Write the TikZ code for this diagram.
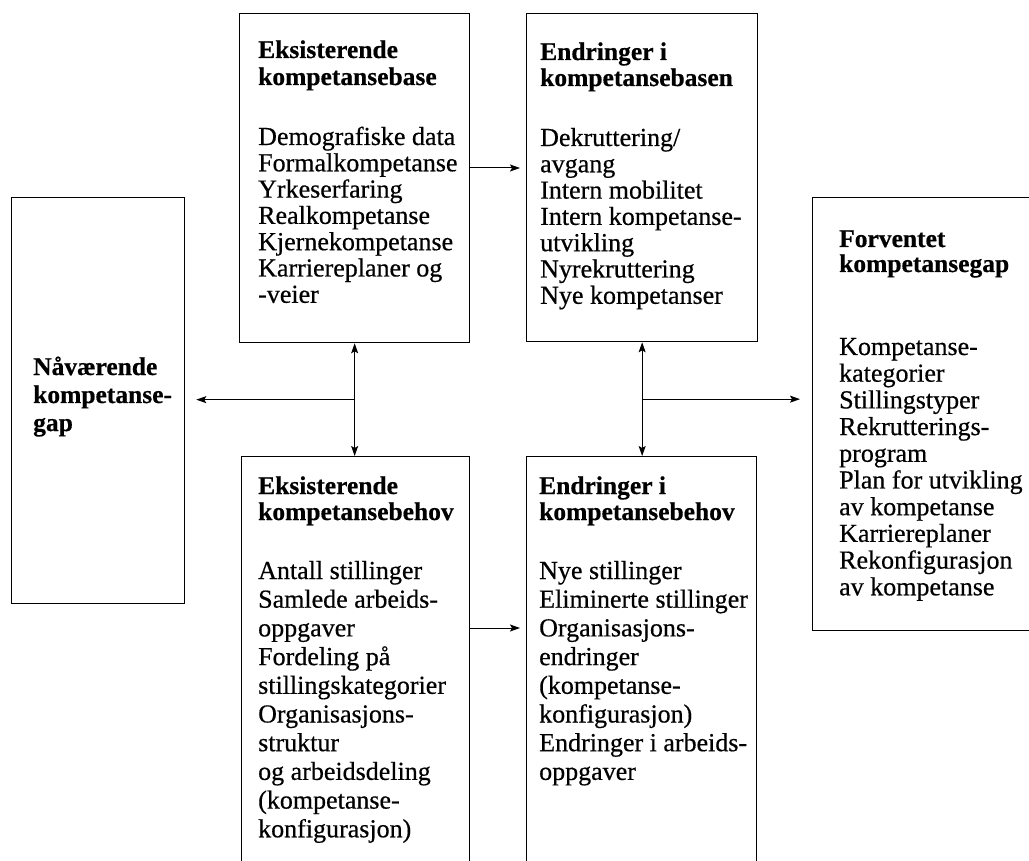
\documentclass[tikz,border=0pt]{standalone}
\usepackage{fontspec}
\setmainfont{Liberation Serif}[FakeBold=0.5]
\usetikzlibrary{arrows.meta,calc}
\newcommand\txtblock[3]{\parbox[t]{300pt}{\fontsize{#1}{#2}\selectfont\raggedright #3}}
\tikzset{
  box/.style={draw, line width=1.3pt, inner sep=0pt, anchor=north west},
  txt/.style={anchor=base west, inner sep=0pt},
  arr/.style={line width=1pt, -{Stealth[length=10pt,width=7pt,inset=2pt]}},
  dbl/.style={line width=1pt, {Stealth[length=10pt,width=7pt,inset=2pt]}-{Stealth[length=10pt,width=7pt,inset=2pt]}}
}
\begin{document}
\begin{tikzpicture}[x=1pt,y=-1pt]
\useasboundingbox (0,0) rectangle (1029,861);
\fill[white] (0,0) rectangle (1029,861);
% boxes
\node[box, minimum width=173pt, minimum height=406pt] (now) at (11,197) {};
\node[box, minimum width=230pt, minimum height=329pt] (ekb) at (239,13) {};
\node[box, minimum width=231pt, minimum height=328pt] (eib) at (526,13) {};
\node[box, minimum width=228pt, minimum height=430pt] (ekbh) at (241,456) {};
\node[box, minimum width=230pt, minimum height=430pt] (eibh) at (526,456) {};
\node[box, minimum width=240pt, minimum height=433pt] (forv) at (812,197) {};
% texts
\node[txt] (nowt) at (33,375) {\txtblock{25.5}{28}{\bfseries Nåværende\\kompetanse-\\gap}};
\node[txt] (ekbt) at (258,58) {\txtblock{25.5}{27}{\bfseries Eksisterende\\kompetansebase}};
\node[txt] (ekbb) at (258,145) {\txtblock{26}{26.3}{Demografiske data\\Formalkompetanse\\Yrkeserfaring\\Realkompetanse\\Kjernekompetanse\\Karriereplaner og\\-veier}};
\node[txt] (eibt) at (540,60) {\txtblock{25.5}{26}{\bfseries Endringer i\\kompetansebasen}};
\node[txt] (eibb) at (540,146) {\txtblock{26}{26.3}{Dekruttering/\\avgang\\Intern mobilitet\\Intern kompetanse-\\utvikling\\Nyrekruttering\\Nye kompetanser}};
\node[txt] (ekbht) at (258,494) {\txtblock{25.5}{26}{\bfseries Eksisterende\\kompetansebehov}};
\node[txt] (ekbhb) at (258,579) {\txtblock{26}{28.7}{Antall stillinger\\Samlede arbeids-\\oppgaver\\Fordeling på\\stillingskategorier\\Organisasjons-\\struktur\\og arbeidsdeling\\(kompetanse-\\konfigurasjon)}};
\node[txt] (eibht) at (539,494) {\txtblock{25.5}{26}{\bfseries Endringer i\\kompetansebehov}};
\node[txt] (eibhb) at (539,579) {\txtblock{26}{28.7}{Nye stillinger\\Eliminerte stillinger\\Organisasjons-\\endringer\\(kompetanse-\\konfigurasjon)\\Endringer i arbeids-\\oppgaver}};
\node[txt] (forvt) at (839,247) {\txtblock{25.5}{25}{\bfseries Forventet\\kompetansegap}};
\node[txt] (forvb) at (839,355) {\txtblock{26}{26.7}{Kompetanse-\\kategorier\\Stillingstyper\\Rekrutterings-\\program\\Plan for utvikling\\av kompetanse\\Karriereplaner\\Rekonfigurasjon\\av kompetanse}};
% connectors
\coordinate (j1) at ($(ekb.south)!0.5!(ekbh.north)$);
\coordinate (j2) at ($(eib.south)!0.5!(eibh.north)$);
\draw[dbl] (ekb.south) -- (ekb.south |- ekbh.north);
\draw[dbl] (eib.south) -- (eib.south |- eibh.north);
\draw[arr, shorten >=11pt] (j1) -- (now.east |- j1);
\draw[arr, shorten >=12pt] (j2) -- (forv.west |- j2);
\draw[arr, shorten >=6pt] (ekb.east |- 0,168) -- (eib.west |- 0,168);
\draw[arr, shorten >=6pt] (ekbh.east |- 0,628) -- (eibh.west |- 0,628);
\end{tikzpicture}
\end{document}
